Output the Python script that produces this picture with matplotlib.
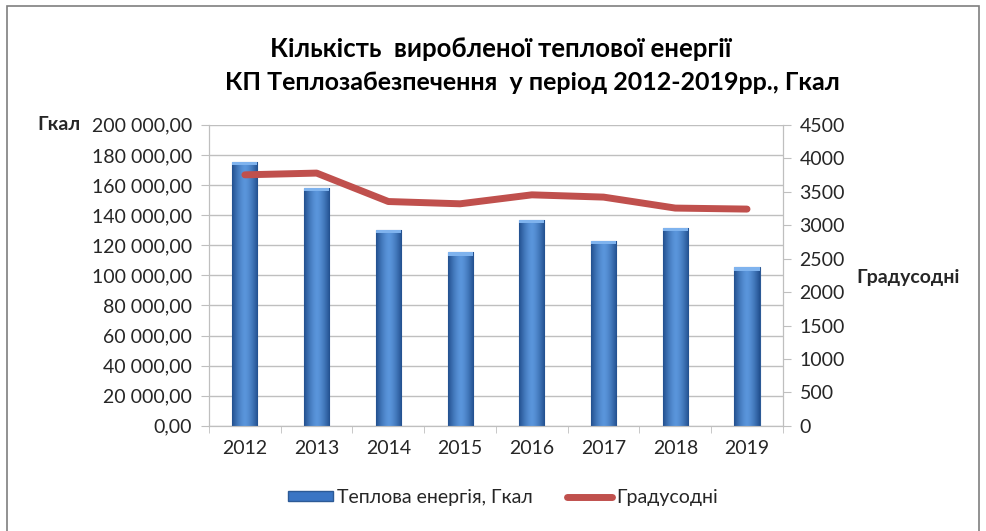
import numpy as np
import matplotlib
matplotlib.use("Agg")
import matplotlib.pyplot as plt
from matplotlib.ticker import FuncFormatter, MultipleLocator
from matplotlib.patches import Rectangle
from matplotlib.lines import Line2D
from matplotlib.colors import LinearSegmentedColormap

plt.rcParams['font.family'] = ['Lato', 'DejaVu Sans']

# data
years = ['2012', '2013', '2014', '2015', '2016', '2017', '2018', '2019']
heat_gcal = [175600, 158000, 130000, 115200, 136900, 122900, 131400, 105200]
degree_days = [3752, 3778, 3353, 3319, 3453, 3419, 3255, 3240]

bar_color = '#3A75C4'
line_color = '#C0504D'
grid_color = '#BFBFBF'
text_color = '#262626'


def fmt_gcal(v, pos):
    s = f"{v:,.2f}"
    return s.replace(",", " ").replace(".", ",")


fig = plt.figure(figsize=(9.86, 5.31), dpi=100)
ax = fig.add_axes([0.212, 0.198, 0.582, 0.567])
ax2 = ax.twinx()

x = np.arange(len(years))
width = 0.35
bars = ax.bar(x, heat_gcal, width, color=bar_color, edgecolor='#2C5A96', linewidth=0.8, zorder=3)

# cylinder-ish shading on the bars
grad = np.linspace(-1, 1, 64)
shade = 1 - np.abs(grad) ** 1.5
shade_img = np.tile(shade, (2, 1))
cmap = LinearSegmentedColormap.from_list('bars', ['#22508F', '#5A95DB'])
for b in bars:
    x0, w, h = b.get_x(), b.get_width(), b.get_height()
    im = ax.imshow(shade_img, cmap=cmap, extent=(x0, x0 + w, 0, h), aspect='auto', zorder=3.5)
    im.set_clip_path(b)
    ax.add_patch(Rectangle((x0, h - 2200), w, 2200, color='#7FB3EE', zorder=3.6, linewidth=0))

ax.set_xlim(-0.5, len(years) - 0.5)
ax.set_ylim(0, 200000)
ax.yaxis.set_major_locator(MultipleLocator(20000))
ax.yaxis.set_major_formatter(FuncFormatter(fmt_gcal))
ax.grid(axis='y', color=grid_color, linewidth=1, zorder=0)
ax.set_axisbelow(True)

ax.set_xticks(x)
ax.set_xticklabels(years)
ax.set_xticks(np.arange(-0.5, len(years)), minor=True)
ax.tick_params(axis='x', which='major', length=0, pad=10, labelsize=14, labelcolor=text_color)
ax.tick_params(axis='x', which='minor', length=5, color=grid_color)
ax.tick_params(axis='y', length=6, color=grid_color, labelsize=14, labelcolor=text_color, pad=6)

ax2.plot(x, degree_days, color=line_color, linewidth=5, solid_capstyle='round', zorder=5)
ax2.set_ylim(0, 4500)
ax2.yaxis.set_major_locator(MultipleLocator(500))
ax2.tick_params(axis='y', length=6, color=grid_color, labelsize=14, labelcolor=text_color, pad=6)

for a in (ax, ax2):
    a.spines['top'].set_visible(False)
    a.spines['left'].set_color(grid_color)
    a.spines['right'].set_color(grid_color)
    a.spines['bottom'].set_color(grid_color)
ax.set_zorder(1)
ax2.set_zorder(2)
ax2.patch.set_visible(False)

fig.text(0.508, 0.907, "Кількість  виробленої теплової енергії", ha='center', va='center',
         fontsize=18.5, fontweight='bold', color='black')
fig.text(0.540, 0.845, "КП Теплозабезпечення  у період 2012-2019рр., Гкал", ha='center', va='center',
         fontsize=18, fontweight='bold', color='black')

fig.text(0.038, 0.765, "Гкал", ha='left', va='center', fontsize=14, fontweight='bold', color=text_color)
fig.text(0.869, 0.478, "Градусодні", ha='left', va='center', fontsize=14, fontweight='bold', color=text_color)

handles = [Rectangle((0, 0), 1, 1, facecolor=bar_color, edgecolor='#2C5A96'),
           Line2D([0], [0], color=line_color, linewidth=5, solid_capstyle='round')]
fig.legend(handles, ['Теплова енергія, Гкал', 'Градусодні'], loc='center',
           bbox_to_anchor=(0.51, 0.063), ncol=2, frameon=False, fontsize=14,
           handlelength=2.3, handleheight=0.45, handletextpad=0.2, columnspacing=1.8,
           labelcolor=text_color)

# chart frame
fig.patches.append(Rectangle((0.007, -0.05), 0.986, 1.039, transform=fig.transFigure,
                             fill=False, edgecolor='#7F7F7F', linewidth=1.2))

fig.savefig("out.png", dpi=100)
